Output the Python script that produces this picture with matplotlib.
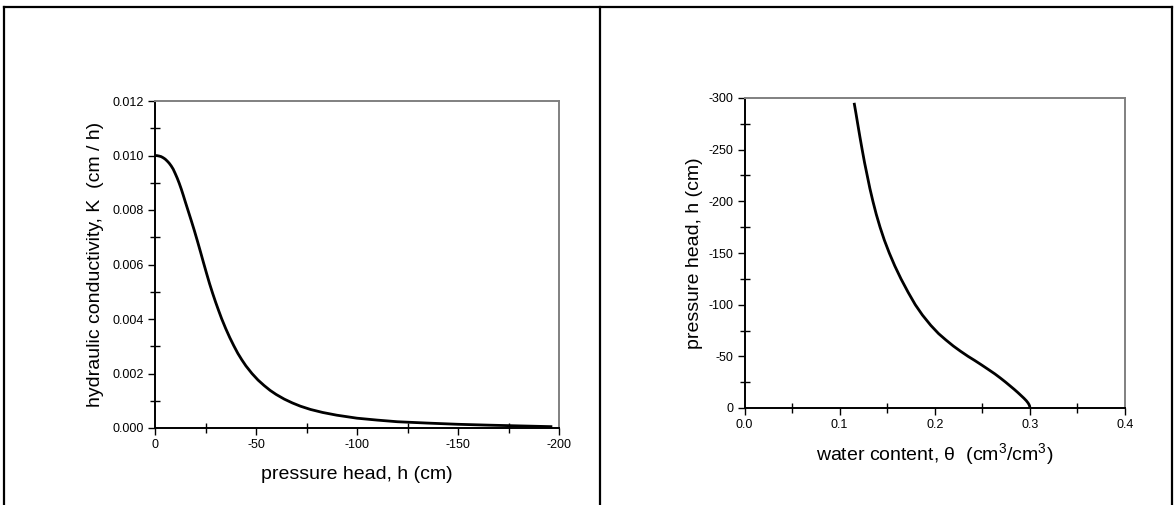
import matplotlib
matplotlib.use('Agg')
import matplotlib.pyplot as plt
from matplotlib.lines import Line2D
from matplotlib.ticker import MultipleLocator, FormatStrFormatter

plt.rcParams['font.family'] = ['Liberation Sans', 'DejaVu Sans']
plt.rcParams['axes.unicode_minus'] = False
plt.rcParams['mathtext.fontset'] = 'custom'
plt.rcParams['mathtext.rm'] = 'Liberation Sans'
plt.rcParams['mathtext.it'] = 'Liberation Sans'

# hydraulic conductivity curve
head_k = [0, -1, -2, -3, -4, -5, -6, -7, -8, -9, -10, -11, -12, -13, -14, -15,
          -16.5, -18, -19.5, -21, -22.5, -24, -25.5, -27, -28.5, -30, -31.5,
          -33, -35, -37, -39, -41, -43, -45, -48, -51, -54, -57, -60, -64,
          -68, -72, -77, -83, -90, -100, -110, -120, -135, -150, -165, -180,
          -196]
cond_k = [0.01000, 0.009995, 0.00998, 0.00996, 0.00992, 0.00987, 0.00980,
          0.00972, 0.00962, 0.00950, 0.00934, 0.00917, 0.00898, 0.00877,
          0.00854, 0.00830, 0.00795, 0.00760, 0.00724, 0.00686, 0.00647,
          0.00607, 0.00568, 0.00530, 0.00495, 0.00462, 0.00431, 0.00401,
          0.00365, 0.00332, 0.00302, 0.00274, 0.00250, 0.00228, 0.00200,
          0.00176, 0.00156, 0.00138, 0.00123, 0.00106, 0.00092, 0.00080,
          0.00068, 0.00057, 0.00047, 0.00036, 0.00029, 0.00023, 0.00018,
          0.000136, 0.000105, 0.000078, 0.00005]

# retention curve
head_t = [0, -1, -2, -3.5, -5, -7, -9.5, -12, -15, -18, -21, -25, -29, -33,
          -37.5, -42, -46, -50, -55, -60, -66, -72, -80, -90, -100, -112,
          -125, -137.5, -150, -162.5, -175, -187.5, -200, -212.5, -225,
          -237.5, -250, -262.5, -275, -285, -294]
theta = [0.300, 0.2999, 0.2997, 0.2990, 0.2980, 0.2963, 0.2937, 0.2908,
         0.2873, 0.2836, 0.2797, 0.2745, 0.2690, 0.2632, 0.2560, 0.2487,
         0.2420, 0.2350, 0.2270, 0.2195, 0.2115, 0.2040, 0.1958, 0.1870,
         0.1795, 0.1720, 0.1645, 0.1580, 0.1522, 0.1470, 0.1425, 0.1385,
         0.1350, 0.1318, 0.1290, 0.1262, 0.1237, 0.1213, 0.1190, 0.1172,
         0.1155]

W, H = 1176, 505
fig = plt.figure(figsize=(W / 100, H / 100), dpi=100)


def px_axes(x0, x1, y0, y1):
    return fig.add_axes([x0 / W, 1 - y1 / H, (x1 - x0) / W, (y1 - y0) / H])


def style(ax):
    for s in ['left', 'bottom']:
        ax.spines[s].set_color('black')
        ax.spines[s].set_linewidth(1.4)
    for s in ['top', 'right']:
        ax.spines[s].set_color('#808080')
        ax.spines[s].set_linewidth(1.4)
    ax.tick_params(which='major', direction='out', length=5, width=1,
                   labelsize=9, pad=3)
    ax.tick_params(which='minor', direction='inout', length=7, width=1)


ax1 = px_axes(155, 559, 101, 428)
ax1.plot(head_k, cond_k, color='black', lw=2)
ax1.set_xlim(0, -200)
ax1.set_ylim(0, 0.012)
ax1.xaxis.set_major_locator(MultipleLocator(50))
ax1.xaxis.set_minor_locator(MultipleLocator(25))
ax1.yaxis.set_major_locator(MultipleLocator(0.002))
ax1.yaxis.set_minor_locator(MultipleLocator(0.001))
ax1.yaxis.set_major_formatter(FormatStrFormatter('%.3f'))
ax1.xaxis.set_major_formatter(FormatStrFormatter('%d'))
style(ax1)
ax1.set_xlabel('pressure head, h (cm)', fontsize=14, labelpad=11)
ax1.set_ylabel('hydraulic conductivity, K  (cm / h)', fontsize=14, labelpad=6)

ax2 = px_axes(744.5, 1125, 98, 408)
ax2.plot(theta, head_t, color='black', lw=2)
ax2.set_xlim(0, 0.4)
ax2.set_ylim(0, -300)
ax2.xaxis.set_major_locator(MultipleLocator(0.1))
ax2.xaxis.set_minor_locator(MultipleLocator(0.05))
ax2.yaxis.set_major_locator(MultipleLocator(50))
ax2.yaxis.set_minor_locator(MultipleLocator(25))
ax2.xaxis.set_major_formatter(FormatStrFormatter('%.1f'))
ax2.yaxis.set_major_formatter(FormatStrFormatter('%d'))
style(ax2)
ax2.set_xlabel('water content, θ  (cm$^3$/cm$^3$)', fontsize=14, labelpad=7)
ax2.set_ylabel('pressure head, h (cm)', fontsize=14, labelpad=4)

# table-like frame around the two panels
def fline(xs, ys):
    fig.add_artist(Line2D([x / W for x in xs], [1 - y / H for y in ys],
                          color='black', lw=1.6, transform=fig.transFigure))


fline([4, 1172], [7, 7])
fline([4, 4], [7, 505])
fline([600, 600], [7, 505])
fline([1172, 1172], [7, 505])

fig.savefig('out.png', dpi=100)
